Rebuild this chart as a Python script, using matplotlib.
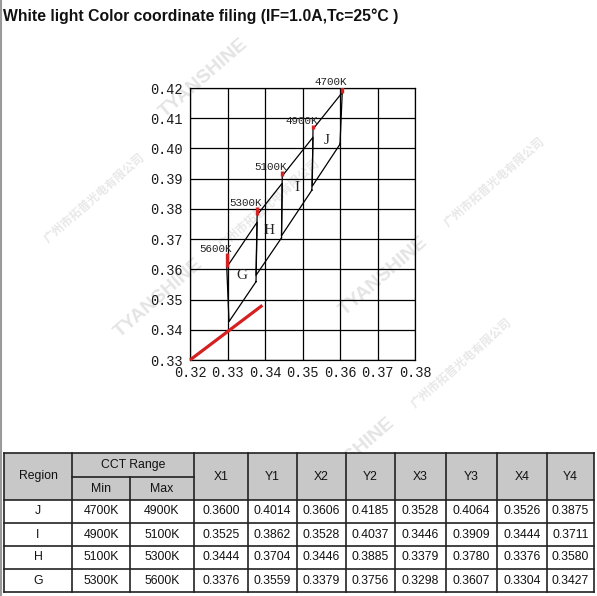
import matplotlib
matplotlib.use("Agg")
import matplotlib.pyplot as plt
from matplotlib.patches import Rectangle
from matplotlib.lines import Line2D

# ---------------- data ----------------
regions = ["J", "I", "H", "G"]
cct_min = ["4700K", "4900K", "5100K", "5300K"]
cct_max = ["4900K", "5100K", "5300K", "5600K"]
x1 = [0.3600, 0.3525, 0.3444, 0.3376]
y1 = [0.4014, 0.3862, 0.3704, 0.3559]
x2 = [0.3606, 0.3528, 0.3446, 0.3379]
y2 = [0.4185, 0.4037, 0.3885, 0.3756]
x3 = [0.3528, 0.3446, 0.3379, 0.3298]
y3 = [0.4064, 0.3909, 0.3780, 0.3607]
x4 = [0.3526, 0.3444, 0.3376, 0.3304]
y4 = [0.3875, 0.3711, 0.3580, 0.3427]

cct_labels = ["4700K", "4900K", "5100K", "5300K", "5600K"]
cct_x = [0.3606, 0.3528, 0.3446, 0.3379, 0.3298]
cct_y = [0.4185, 0.4064, 0.3909, 0.3780, 0.3607]
cct_y_top = [0.4205, 0.4076, 0.3927, 0.3805, 0.3653]

locus_x = [0.3200, 0.3393]
locus_y = [0.3300, 0.3481]

x_ticks = [0.32, 0.33, 0.34, 0.35, 0.36, 0.37, 0.38]
y_ticks = [0.33, 0.34, 0.35, 0.36, 0.37, 0.38, 0.39, 0.40, 0.41, 0.42]

title = "White light Color coordinate filing (IF=1.0A,Tc=25\u00b0C )"
header_top = ["Region", "CCT Range", "X1", "Y1", "X2", "Y2", "X3", "Y3", "X4", "Y4"]
header_sub = ["Min", "Max"]

wm_brand = "TYANSHINE"
wm_company = "广州市拓普光电有限公司"

# ---------------- figure ----------------
W, H = 597, 596
fig = plt.figure(figsize=(W / 100, H / 100), dpi=100)

def px_rect(l, t, r, b):
    return [l / W, 1 - b / H, (r - l) / W, (b - t) / H]

bg = fig.add_axes([0, 0, 1, 1])
bg.set_xlim(0, W)
bg.set_ylim(H, 0)
bg.axis("off")

# faint watermarks (pixel layout)
wm_angle = 41
brand_starts = [(165, 118), (120, 338), (345, 316), (312, 497)]
company_starts = [(48, 243), (223, 249), (448, 227), (415, 408)]
for (sx, sy) in brand_starts:
    bg.text(sx, sy, wm_brand, rotation=wm_angle, rotation_mode="anchor",
            ha="left", va="baseline", fontsize=14, fontweight="bold",
            family="Liberation Sans", color="#e4e4e4", zorder=0)
for (sx, sy) in company_starts:
    bg.text(sx, sy, wm_company, rotation=wm_angle, rotation_mode="anchor",
            ha="left", va="baseline", fontsize=8.5, fontweight="bold",
            family=["Noto Sans CJK SC", "DejaVu Sans"], color="#e8e8e8", zorder=0)

# left grey border
bg.add_line(Line2D([1, 1], [0, H], color="#9a9a9a", lw=1.5))

# title
bg.text(3, 16, title, fontsize=11.3, fontweight="bold",
        family="Liberation Sans", va="center", ha="left", color="#111111")

# ---------------- chart ----------------
ax = fig.add_axes(px_rect(190, 88, 415, 360))
ax.patch.set_alpha(0)
ax.set_xlim(x_ticks[0], x_ticks[-1])
ax.set_ylim(y_ticks[0], y_ticks[-1])
ax.set_xticks(x_ticks)
ax.set_yticks(y_ticks)
ax.set_xticklabels([f"{v:.2f}" for v in x_ticks])
ax.set_yticklabels([f"{v:.2f}" for v in y_ticks])
ax.tick_params(length=0, labelsize=9.8)
ax.tick_params(axis="x", pad=4)
ax.tick_params(axis="y", pad=5)
for lab in ax.get_xticklabels() + ax.get_yticklabels():
    lab.set_family("Liberation Mono")
    lab.set_color("#1a1a1a")
ax.grid(True, color="black", lw=0.9)
ax.set_axisbelow(True)
for s in ax.spines.values():
    s.set_color("black")
    s.set_linewidth(0.9)

for i in range(len(regions)):
    px = [x1[i], x2[i], x3[i], x4[i], x1[i]]
    py = [y1[i], y2[i], y3[i], y4[i], y1[i]]
    ax.plot(px, py, color="black", lw=0.9)
    cx = sum(px[:4]) / 4
    cy = sum(py[:4]) / 4
    ax.text(cx, cy - 0.0008, regions[i], fontsize=11, family="Liberation Serif",
            ha="center", va="center", color="#222222")

ax.plot(locus_x, locus_y, color="#d42020", lw=2.3, clip_on=False,
        solid_capstyle="butt", zorder=5)

for lab, cx, cy, ct in zip(cct_labels, cct_x, cct_y, cct_y_top):
    ax.plot([cx, cx], [cy, ct], color="#d42020", lw=2.4, solid_capstyle="butt", zorder=5)
    ax.annotate(lab, (cx, ct), xytext=(5, 4), textcoords="offset pixels",
                ha="right", va="center", fontsize=7.8, family="Liberation Mono",
                color="#222222", annotation_clip=False)

# ---------------- table ----------------
col_edges = [4, 72, 130, 194, 248, 297, 346, 395, 446, 497, 547, 594]
row_edges = [453, 477, 500, 523, 546, 569, 592]
hdr_fill = "#c8c8c8"
tfont = dict(family="Liberation Sans", fontsize=8.8, color="#111111",
             ha="center", va="center")

bg.add_patch(Rectangle((col_edges[0], row_edges[0]), col_edges[-1] - col_edges[0],
                       row_edges[2] - row_edges[0], facecolor=hdr_fill,
                       edgecolor="none", zorder=1))
bg.text((col_edges[0] + col_edges[1]) / 2, (row_edges[0] + row_edges[2]) / 2,
        header_top[0], **tfont)
bg.text((col_edges[1] + col_edges[3]) / 2, (row_edges[0] + row_edges[1]) / 2,
        header_top[1], **tfont)
for j, s in enumerate(header_sub):
    bg.text((col_edges[1 + j] + col_edges[2 + j]) / 2, (row_edges[1] + row_edges[2]) / 2,
            s, **tfont)
for j, s in enumerate(header_top[2:]):
    bg.text((col_edges[3 + j] + col_edges[4 + j]) / 2, (row_edges[0] + row_edges[2]) / 2,
            s, **tfont)

cols = [regions, cct_min, cct_max, x1, y1, x2, y2, x3, y3, x4, y4]
for r in range(len(regions)):
    ty = (row_edges[2 + r] + row_edges[3 + r]) / 2
    for c, col in enumerate(cols):
        v = col[r]
        s = v if isinstance(v, str) else f"{v:.4f}"
        tx = (col_edges[c] + col_edges[c + 1]) / 2
        bg.text(tx, ty, s, **tfont)

lw_t = 1.2
tl = dict(color="#222222", lw=lw_t, solid_capstyle="projecting", zorder=3)
bg.add_line(Line2D([col_edges[0], col_edges[-1]], [row_edges[0]] * 2, **tl))
bg.add_line(Line2D([col_edges[0], col_edges[-1]], [row_edges[-1]] * 2, **tl))
bg.add_line(Line2D([col_edges[1], col_edges[3]], [row_edges[1]] * 2, **tl))
for ry in row_edges[2:-1]:
    bg.add_line(Line2D([col_edges[0], col_edges[-1]], [ry] * 2, **tl))
for k, cx in enumerate(col_edges):
    top = row_edges[1] if k == 2 else row_edges[0]
    bg.add_line(Line2D([cx, cx], [top, row_edges[-1]], **tl))

fig.savefig("out.png", dpi=100)
